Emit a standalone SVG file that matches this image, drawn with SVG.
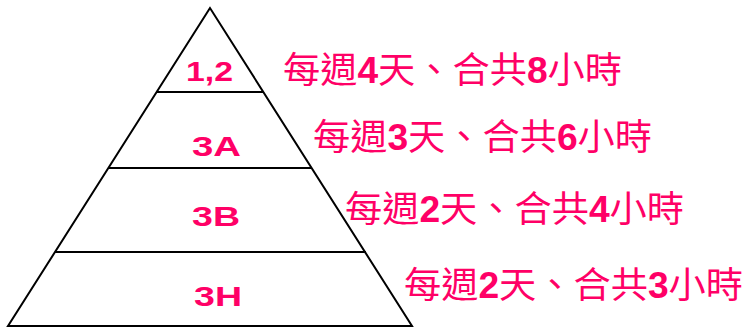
<svg xmlns="http://www.w3.org/2000/svg" width="746" height="331" viewBox="0 0 746 331">
<style>
.ln{stroke:#000;stroke-width:2;fill:none}
.lbl{font-family:"Liberation Sans",Arial,sans-serif;font-weight:bold;font-size:28px;fill:#FF0066}
.txt{font-family:"Liberation Sans","Noto Sans CJK TC",sans-serif;font-size:36px;fill:#FF0066}
.b{font-weight:bold}
</style>
<rect width="746" height="331" fill="#fff"/>
<g id="pyramid">
<polygon class="ln" points="210,8 8,326 412,326"/>
</g>
<g id="connectors">
<line class="ln" x1="157" y1="92" x2="263" y2="92"/>
<line class="ln" x1="109" y1="168" x2="311" y2="168"/>
<line class="ln" x1="55" y1="252" x2="366" y2="252"/>
</g>
<g id="level12"><text class="lbl" x="186" y="81" textLength="47" lengthAdjust="spacingAndGlyphs">1,2</text></g>
<g id="level3A"><text class="lbl" x="192" y="156" textLength="49" lengthAdjust="spacingAndGlyphs">3A</text></g>
<g id="level3B"><text class="lbl" x="192" y="226" textLength="48" lengthAdjust="spacingAndGlyphs">3B</text></g>
<g id="level3H"><text class="lbl" x="194" y="306" textLength="48" lengthAdjust="spacingAndGlyphs">3H</text></g>
<g id="note1"><text class="txt" x="283" y="83" textLength="339" lengthAdjust="spacingAndGlyphs">每週<tspan class="b">4</tspan>天、合共<tspan class="b">8</tspan>小時</text></g>
<g id="note2"><text class="txt" x="313" y="150" textLength="339" lengthAdjust="spacingAndGlyphs">每週<tspan class="b">3</tspan>天、合共<tspan class="b">6</tspan>小時</text></g>
<g id="note3"><text class="txt" x="345" y="222" textLength="339" lengthAdjust="spacingAndGlyphs">每週<tspan class="b">2</tspan>天、合共<tspan class="b">4</tspan>小時</text></g>
<g id="note4"><text class="txt" x="404" y="298" textLength="339" lengthAdjust="spacingAndGlyphs">每週<tspan class="b">2</tspan>天、合共<tspan class="b">3</tspan>小時</text></g>
</svg>
